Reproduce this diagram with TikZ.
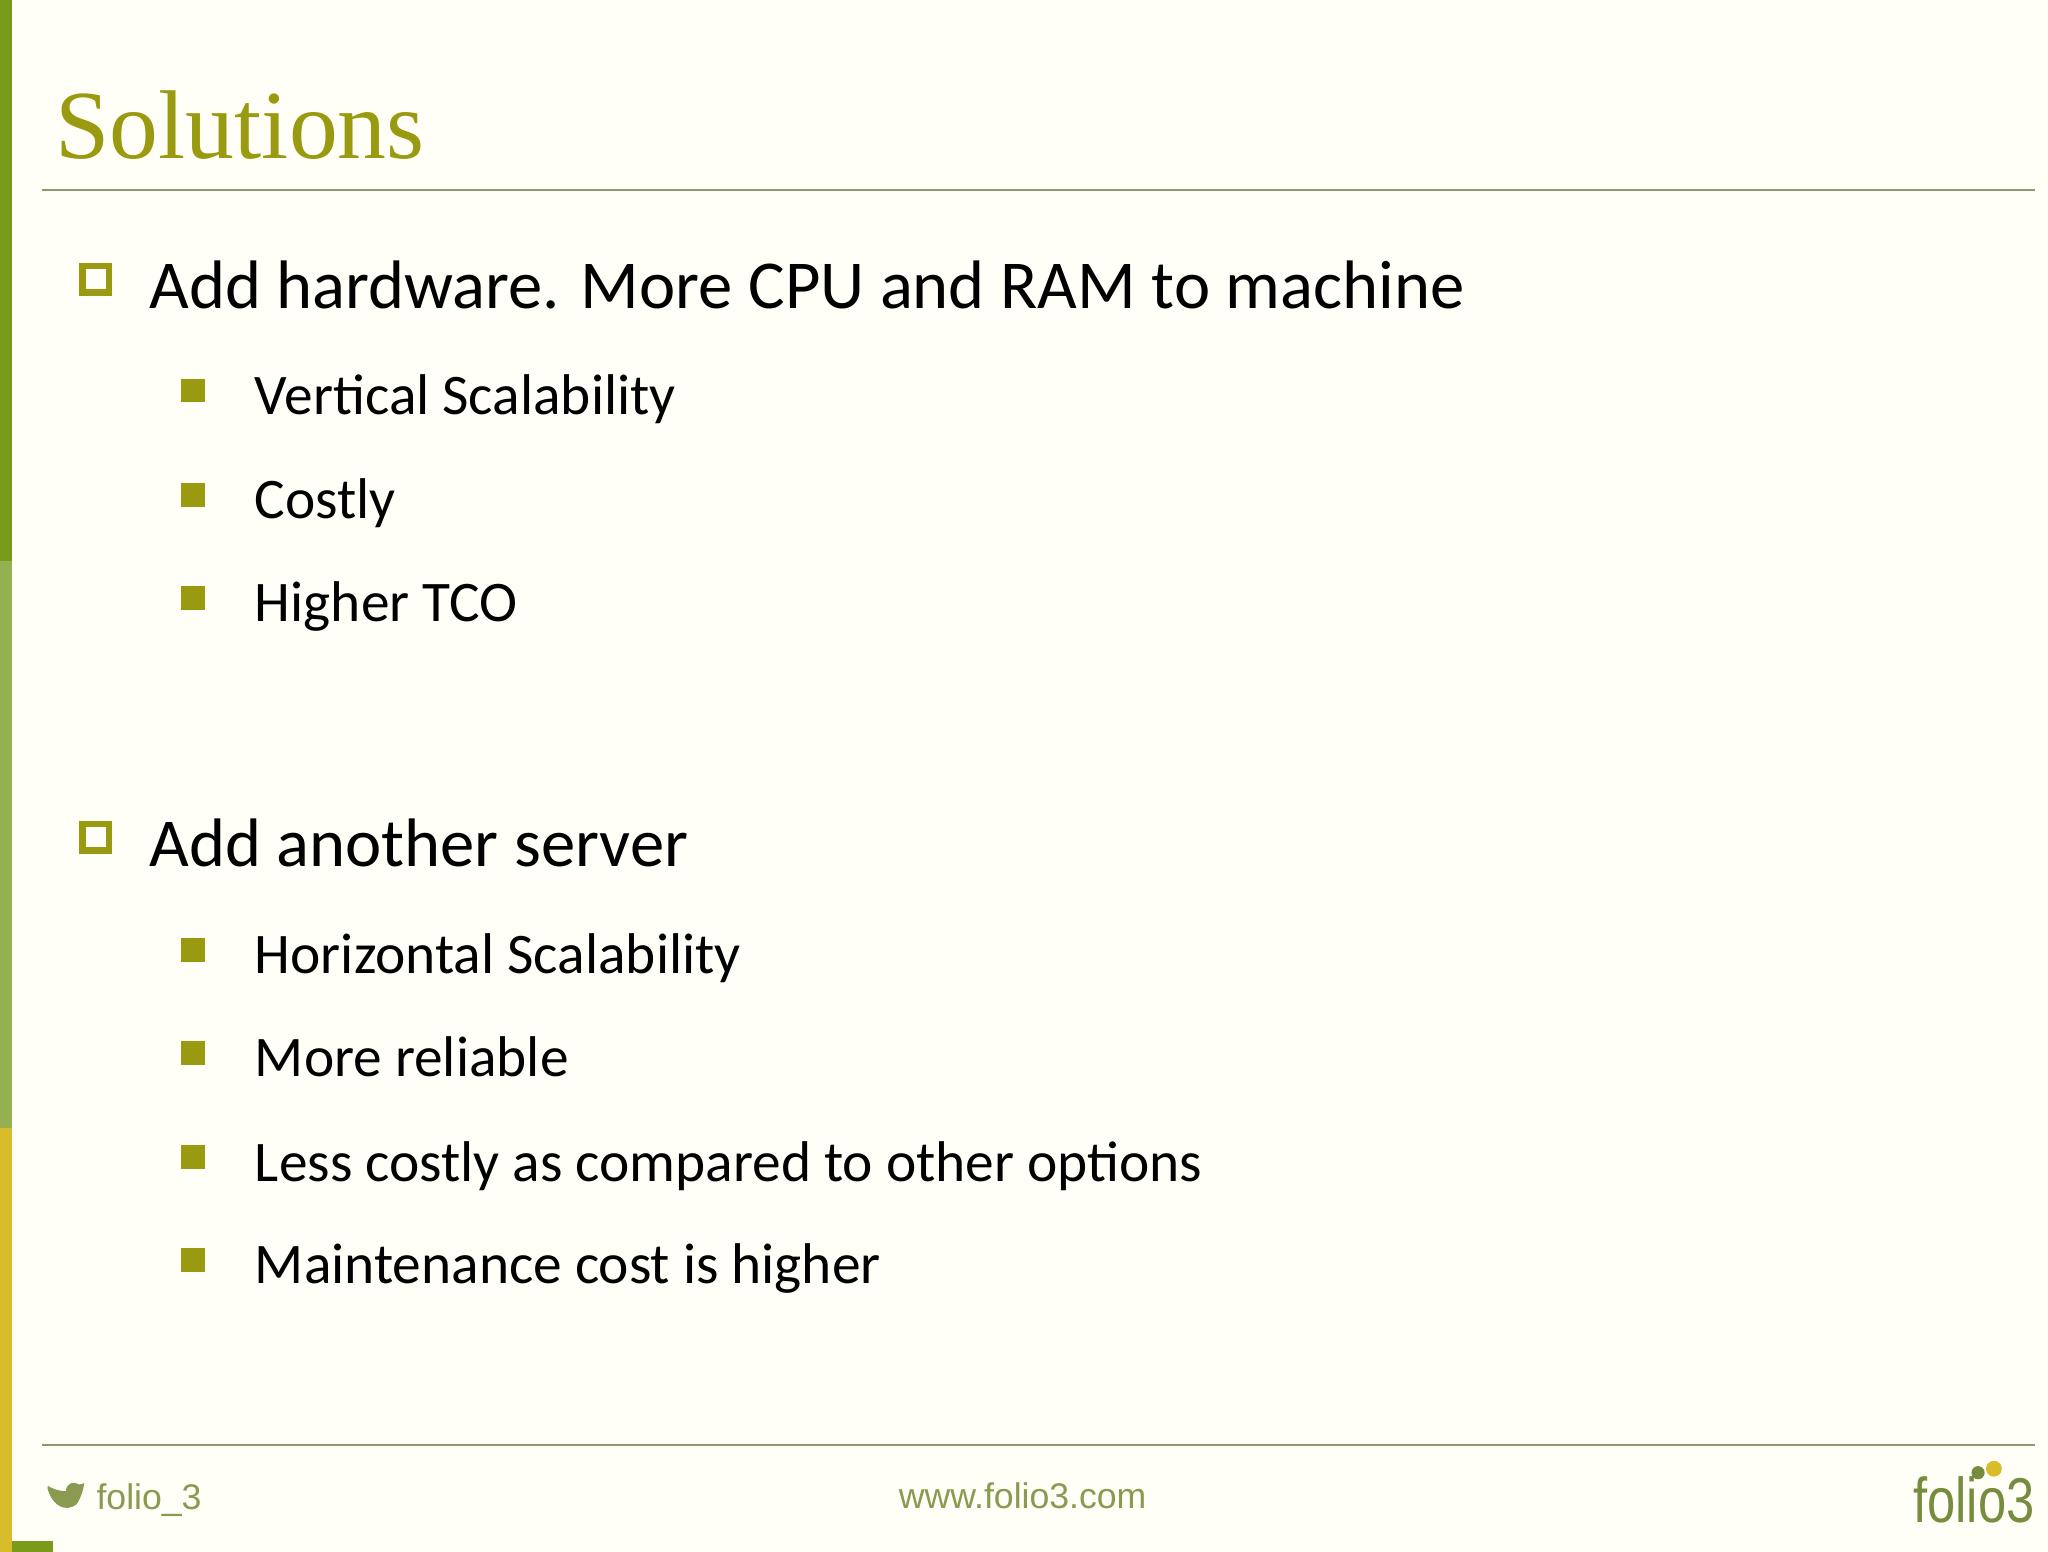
\documentclass[tikz,border=0pt]{standalone}
\usepackage{fontspec}
\setmainfont{Carlito}
\newfontfamily\titlefont{Liberation Serif}
\newfontfamily\footfont{Liberation Sans}
\definecolor{olive}{HTML}{9A9A10}
\definecolor{barA}{HTML}{7A9A1A}
\definecolor{barB}{HTML}{94B050}
\definecolor{barC}{HTML}{D8BC2A}
\definecolor{rule}{HTML}{8A9A6A}
\definecolor{foot}{HTML}{8A9A50}
\begin{document}
\begin{tikzpicture}[x=1pt,y=-1pt,
  main/.style={anchor=base west,font=\fontsize{52}{60}\selectfont,inner sep=0},
  sub/.style={anchor=base west,font=\fontsize{43.5}{50}\selectfont,inner sep=0},
  hollow/.style={draw=olive,line width=5pt},
  filled/.style={fill=olive}]
\useasboundingbox (0,0) rectangle (1552,1176);
\fill[white!97!yellow] (0,0) rectangle (1552,1176);
\fill[barA] (0,0) rectangle (9,425);
\fill[barB] (0,425) rectangle (9,855);
\fill[barC] (0,855) rectangle (9,1176);
\fill[barA] (9,1168) rectangle (40,1176);
\node[anchor=base west,inner sep=0,text=olive,font=\titlefont\fontsize{74}{80}\selectfont] (title) at (42,120) {Solutions};
\draw[rule,line width=1.2pt] (32,144) -- (1542,144);
\draw[rule,line width=1.2pt] (32,1095) -- (1542,1095);
% bullets
\draw[hollow] (62.5,201.5) rectangle (82.5,221.5);
\node[main] (m1) at (113,234) {Add hardware. More CPU and RAM to machine};
\draw[hollow] (62.5,624.5) rectangle (82.5,644.5);
\node[main] (m2) at (113,657) {Add another server};
\foreach \y/\t [count=\i] in {301/Vertical Scalability,380/Costly,458/Higher TCO,725/Horizontal Scalability,803/More reliable,882/Less costly as compared to other options,960/Maintenance cost is higher}{
  \fill[filled] (137,\y-14) rectangle (155,\y+4);
  \node[sub] (s\i) at (193,\y+13) {\t};
}
% footer
\fill[foot] (36,1128) .. controls (40,1142) and (50,1146) .. (58,1140) .. controls (62,1134) and (63,1128) .. (64,1124) -- (60,1125) .. controls (56,1122) and (50,1124) .. (50,1130) .. controls (44,1130) and (40,1128) .. (36,1126) -- cycle;
\node[anchor=base west,inner sep=0,text=foot,font=\footfont\fontsize{27}{30}\selectfont] (tw) at (73,1144) {folio\_3};
\node[anchor=base,inner sep=0,text=foot,font=\footfont\fontsize{27}{30}\selectfont] (web) at (775,1143) {www.folio3.com};
\node[anchor=base east,inner sep=0,text=barB!80!black,font=\footfont\fontsize{48}{52}\selectfont,xscale=0.8] (logo) at (1542,1154) {folio3};
\fill[barB!80!black] (1499,1116) circle (5);
\fill[barC] (1511,1113) circle (6);
\end{tikzpicture}
\end{document}
